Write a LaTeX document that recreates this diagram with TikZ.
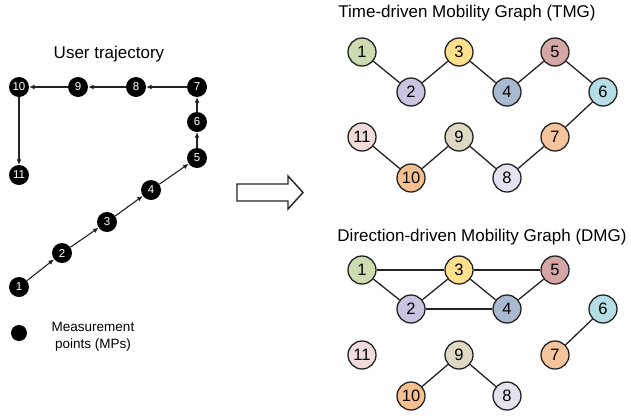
\documentclass[tikz,border=0pt]{standalone}
\usepackage{fontspec}
\setmainfont{Liberation Sans}
\usetikzlibrary{arrows.meta}

\definecolor{cA}{HTML}{CDDBB0}
\definecolor{cB}{HTML}{CBC3E0}
\definecolor{cC}{HTML}{FFE08C}
\definecolor{cD}{HTML}{A9B9CF}
\definecolor{cE}{HTML}{D5A6A6}
\definecolor{cF}{HTML}{B4DDE6}
\definecolor{cG}{HTML}{F6C49C}
\definecolor{cH}{HTML}{E6E1EF}
\definecolor{cI}{HTML}{DDD9C3}
\definecolor{cJ}{HTML}{F6BF8F}
\definecolor{cK}{HTML}{F2DCDB}
\definecolor{lineg}{HTML}{222222}

\tikzset{
  mp/.style={circle, fill=black, minimum size=20pt, inner sep=0pt,
    text=white, font=\fontsize{11.5}{13}\selectfont},
  gnode/.style={circle, draw=lineg, line width=1.3pt, minimum size=28pt,
    inner sep=0pt, font=\fontsize{16.5}{19}\selectfont},
  traj/.style={draw=lineg, line width=1.1pt, -{Latex[length=5.5pt,width=5pt]}},
  gedge/.style={draw=lineg, line width=1.3pt},
  title/.style={font=\fontsize{17}{20}\selectfont},
}

\begin{document}
\begin{tikzpicture}[x=1pt,y=-1pt]
\useasboundingbox (0,0) rectangle (631,418);

% user trajectory
\node[title] (ut) at (109,54) {User trajectory};
\node[mp] (t1) at (19,287) {1};
\node[mp] (t2) at (62,253) {2};
\node[mp] (t3) at (107,222) {3};
\node[mp] (t4) at (151,190) {4};
\node[mp] (t5) at (197,158) {5};
\node[mp] (t6) at (197,122) {6};
\node[mp] (t7) at (197,87) {7};
\node[mp] (t8) at (136,87) {8};
\node[mp] (t9) at (78,87) {9};
\node[mp] (t10) at (19,87) {10};
\node[mp] (t11) at (19,175) {11};
\foreach \a/\b in {t1/t2,t2/t3,t3/t4,t4/t5,t5/t6,t6/t7,t7/t8,t8/t9,t9/t10,t10/t11}
  \draw[traj] (\a) -- (\b);

% legend
\node[circle, fill=black, minimum size=16pt, inner sep=0pt] (leg) at (19,333) {};
\node[font=\fontsize{13.5}{17}\selectfont, align=center] (legtxt) at (93,337)
  {Measurement\\points (MPs)};

% transition arrow
\draw[line width=1.4pt, draw=lineg, fill=white, line join=miter]
  (237,184) -- (288,184) -- (288,176) -- (303,192.5) -- (288,209) -- (288,201)
  -- (237,201) -- cycle;

% time-driven graph
\node[title] (tmg) at (467,13) {Time-driven Mobility Graph (TMG)};
\node[gnode, fill=cA] (a1) at (362,52) {1};
\node[gnode, fill=cB] (a2) at (411,92) {2};
\node[gnode, fill=cC] (a3) at (459,52) {3};
\node[gnode, fill=cD] (a4) at (507,92) {4};
\node[gnode, fill=cE] (a5) at (555,52) {5};
\node[gnode, fill=cF] (a6) at (603,92) {6};
\node[gnode, fill=cG] (a7) at (555,137) {7};
\node[gnode, fill=cH] (a8) at (507,178) {8};
\node[gnode, fill=cI] (a9) at (459,137) {9};
\node[gnode, fill=cJ] (a10) at (411,178) {10};
\node[gnode, fill=cK] (a11) at (362,137) {11};
\foreach \a/\b in {a1/a2,a2/a3,a3/a4,a4/a5,a5/a6,a6/a7,a7/a8,a8/a9,a9/a10,a10/a11}
  \draw[gedge] (\a) -- (\b);

% direction-driven graph
\node[title] (dmg) at (482,237) {Direction-driven Mobility Graph (DMG)};
\node[gnode, fill=cA] (b1) at (362,270) {1};
\node[gnode, fill=cB] (b2) at (411,309) {2};
\node[gnode, fill=cC] (b3) at (459,270) {3};
\node[gnode, fill=cD] (b4) at (507,309) {4};
\node[gnode, fill=cE] (b5) at (555,270) {5};
\node[gnode, fill=cF] (b6) at (603,309) {6};
\node[gnode, fill=cG] (b7) at (555,355) {7};
\node[gnode, fill=cH] (b8) at (507,396) {8};
\node[gnode, fill=cI] (b9) at (459,355) {9};
\node[gnode, fill=cJ] (b10) at (411,396) {10};
\node[gnode, fill=cK] (b11) at (362,355) {11};
\foreach \a/\b in {b1/b3,b1/b2,b2/b3,b2/b4,b3/b4,b3/b5,b4/b5,b6/b7,b9/b10,b9/b8}
  \draw[gedge] (\a) -- (\b);
\end{tikzpicture}
\end{document}
